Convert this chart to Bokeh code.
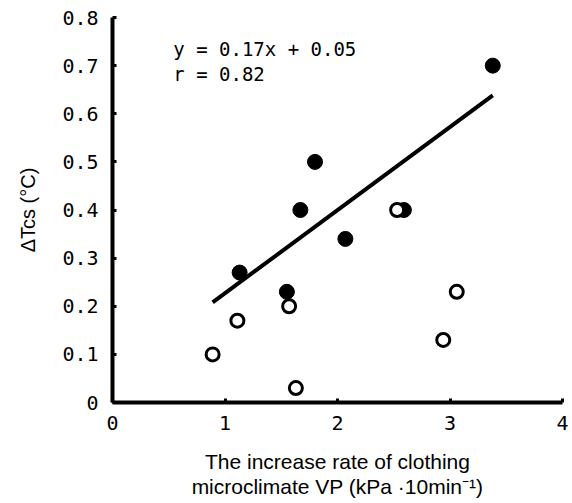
from bokeh.plotting import figure
from bokeh.models import Range1d, FixedTicker, Label
from bokeh.embed import file_html
from bokeh.resources import INLINE

# Data
filled_x = [1.13, 1.55, 1.67, 1.80, 2.07, 2.59, 3.38]
filled_y = [0.27, 0.23, 0.40, 0.50, 0.34, 0.40, 0.70]
open_x = [0.89, 1.11, 1.57, 1.63, 2.53, 2.94, 3.06]
open_y = [0.10, 0.17, 0.20, 0.03, 0.40, 0.13, 0.23]
fit_x = [0.89, 3.38]
fit_y = [0.208, 0.638]
x_ticks = [0, 1, 2, 3, 4]
y_ticks = [0, 0.1, 0.2, 0.3, 0.4, 0.5, 0.6, 0.7, 0.8]
y_tick_labels = ["0", "0.1", "0.2", "0.3", "0.4", "0.5", "0.6", "0.7", "0.8"]
equation_lines = ["y = 0.17x + 0.05", "r = 0.82"]
x_label_lines = ["The increase rate of clothing", "microclimate VP (kPa \u00b710min\u207b\u00b9)"]
y_label = "\u0394Tcs (\u00b0C)"

MONO = "DejaVu Sans Mono"
SANS = "Liberation Sans"

p = figure(width=570, height=503, output_backend="svg", toolbar_location=None,
           x_range=Range1d(0, 4), y_range=Range1d(0, 0.8),
           min_border_left=112, min_border_right=8, min_border_top=17, min_border_bottom=101)
p.grid.visible = False
p.outline_line_color = None
p.background_fill_color = "white"

for ax in (p.xaxis[0], p.yaxis[0]):
    ax.axis_line_width = 4
    ax.axis_line_color = "black"
    ax.major_tick_in = 4
    ax.major_tick_out = 0
    ax.major_tick_line_width = 3
    ax.minor_tick_line_color = None
    ax.major_label_text_font = MONO
    ax.major_label_text_font_size = "20px"
    ax.major_label_text_color = "black"

p.xaxis.ticker = FixedTicker(ticks=x_ticks)
p.yaxis.ticker = FixedTicker(ticks=y_ticks)
p.yaxis.major_label_overrides = {t: s for t, s in zip(y_ticks, y_tick_labels)}
p.xaxis.major_label_standoff = 13
p.yaxis.major_label_standoff = 14

p.yaxis.axis_label = y_label
p.yaxis.axis_label_text_font = SANS
p.yaxis.axis_label_text_font_size = "20px"
p.yaxis.axis_label_text_font_style = "normal"
p.yaxis.axis_label_text_color = "black"
p.yaxis.axis_label_standoff = 20

p.xaxis.axis_label = "\n".join(x_label_lines)
p.xaxis.axis_label_text_font = SANS
p.xaxis.axis_label_text_font_size = "21px"
p.xaxis.axis_label_text_font_style = "normal"
p.xaxis.axis_label_text_color = "black"
p.xaxis.axis_label_text_line_height = 1.1
p.xaxis.axis_label_standoff = 17

p.line(fit_x, fit_y, line_width=4, line_color="black")
p.scatter(filled_x, filled_y, size=15, fill_color="black", line_color="black")
p.scatter(open_x, open_y, size=13, fill_color="white", line_color="black", line_width=3)

for i, txt in enumerate(equation_lines):
    p.add_layout(Label(x=0.54, y=0.735 - i * 0.052, text=txt, text_font=MONO,
                       text_font_size="19px", text_baseline="middle", text_color="black"))

open("out.html", "w").write(file_html(p, INLINE))
